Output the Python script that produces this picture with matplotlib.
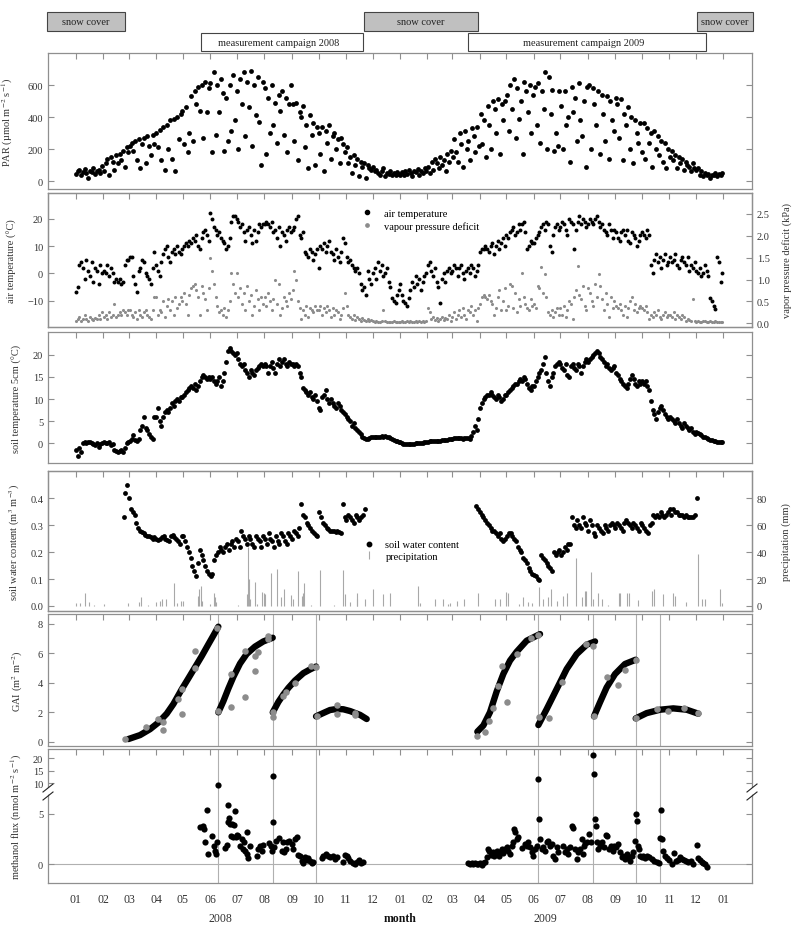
import numpy as np
import pandas as pd
import matplotlib
matplotlib.use("Agg")
import matplotlib.pyplot as plt
import matplotlib.dates as mdates
import matplotlib.transforms as mtrans
from matplotlib.lines import Line2D
from matplotlib.patches import Rectangle, Polygon
from matplotlib.ticker import FormatStrFormatter

plt.rcParams["font.family"] = ["Liberation Serif", "DejaVu Serif"]
plt.rcParams["mathtext.fontset"] = "stix"
plt.rcParams["font.size"] = 7.5

# ---------------- data ----------------
# bars above the panels
snow_start = ["2007-11-30", "2008-11-21", "2009-12-02"]
snow_end = ["2008-02-25", "2009-03-30", "2010-02-03"]
camp_start = ["2008-05-21", "2009-03-19"]
camp_end = ["2008-11-20", "2009-12-13"]
camp_label = ["measurement campaign 2008", "measurement campaign 2009"]

# PAR, every second day
par_2008 = [45, 60, 70, 35, 55, 75, 50, 20, 65, 55, 80, 45, 60, 70, 50, 95,
            60, 110, 140, 40, 150, 120, 70, 160, 110, 170, 130, 190, 90, 210, 180,
            220, 240, 190, 250, 130, 260, 80, 230, 270, 110, 280, 220, 160, 290, 230,
            300, 210, 320, 130, 340, 70, 350, 200, 380, 140, 390, 60, 400, 260, 420,
            440, 230, 460, 180, 300, 530, 250, 560, 480, 590, 440, 600, 270, 620, 430, 580,
            610, 180, 680, 290, 600, 430, 640, 550, 190, 520, 250, 600, 310, 660, 380,
            560, 200, 640, 480, 680, 280, 620, 460, 690, 220, 600, 410, 650, 370, 100, 620,
            580, 170, 520, 300, 600, 350, 490, 240, 540, 440, 560, 290, 520, 180, 480, 600,
            480, 250, 490, 130, 430, 400, 470, 210, 350, 80, 410, 290, 360, 100, 340,
            300, 170, 340, 60, 310, 240, 350, 140, 280, 300, 200, 260, 110, 270, 230, 180,
            210, 110, 150, 50, 160, 100, 140, 30, 120, 90, 110, 20, 100, 80, 70,
            90, 60, 70, 50, 40, 60, 80, 30, 50, 45, 60, 35, 50, 40, 55, 45]
par_2009 = [40, 55, 35, 60, 45, 70, 50, 30, 60, 55, 75, 40, 65, 50, 80, 60,
            90, 50, 120, 70, 140, 110, 80, 150, 100, 130, 60, 170, 120, 190,
            150, 260, 180, 120, 300, 230, 90, 310, 200, 250, 130, 330, 280, 180, 340, 220,
            420, 230, 380, 150, 470, 350, 200, 500, 450, 300, 510, 170, 480, 380, 500,
            540, 310, 600, 450, 640, 270, 580, 390, 500, 170, 620, 560, 430, 600, 300, 540,
            590, 350, 610, 240, 560, 450, 680, 200, 650, 420, 570, 190, 300, 220, 560,
            470, 200, 560, 350, 400, 120, 590, 430, 520, 250, 610, 380, 280, 500, 90, 590,
            600, 200, 580, 480, 350, 560, 170, 540, 420, 250, 530, 140, 500, 380, 310, 520,
            480, 270, 510, 130, 420, 350, 460, 200, 400, 110, 380, 300, 240, 360, 180,
            360, 140, 330, 240, 300, 90, 310, 200, 280, 160, 250, 120, 240, 80, 200, 150,
            190, 130, 160, 80, 150, 110, 140, 70, 120, 100, 90, 60, 110, 80, 70,
            80, 40, 60, 30, 50, 40, 45, 20, 40, 35, 50, 30, 45, 40, 50]

# air temperature (degC), every second day
air_2008 = [-7, -5, 3, 4, 2, -2, 5, 1, -1, 4, -3, 2, 1, -4, 3, 0,
            1, 0, 3, -1, 2, 0, -3, -2, -3, -2, -4, -3, 3, 5, 5,
            6, 6, -1, -4, -7, 1, 2, 5, 4, 0, -1, -2, -4, 2, 8,
            3, 1, -1, 4, 7, 9, 10, 6, 4, 8, 9, 7, 10, 8, 7,
            9, 10, 11, 10, 12, 11, 13, 12, 14, 10, 9, 13, 15, 16, 14, 12,
            22, 20, 17, 16, 14, 15, 13, 12, 11, 9, 10, 13, 19, 21, 21,
            20, 19, 17, 18, 15, 12, 16, 17, 14, 11, 16, 12, 15, 18, 17, 18,
            18, 19, 18, 17, 19, 15, 16, 13, 17, 10, 15, 14, 12, 16, 17, 15,
            16, 17, 20, 21, 14, 13, 15, 8, 7, 6, 9, 8, 5, 7, 9,
            2, 10, 9, 11, 8, 10, 12, 8, 7, 5, 9, 6, 4, 8, 13, 11,
            6, 4, 5, 3, 2, 1, 2, 0, -4, -6, -5, -8, 1, -2, -4,
            0, 2, -2, 4, 1, 3, -1, 0, 2, -3, -5, -9, -10, -11, -8, -6]
air_2009 = [-4, -8, -10, -11, -12, -9, -6, -3, -5, -1, -4, -2, -6, -3, -1, 0,
            3, 4, 1, -1, 2, -3, -5, -11, -2, 0, -3, 1, 2, 0,
            1, 3, 2, -1, 2, 3, 0, -2, 1, 2, 0, 3, 2, -1, 1, 3,
            8, 9, 9, 10, 9, 8, 10, 11, 7, 10, 12, 9, 11, 13, 10,
            14, 13, 15, 16, 17, 14, 15, 18, 16, 18, 19, 15, 9, 10, 12, 11,
            11, 13, 14, 15, 17, 18, 16, 19, 18, 10, 8, 14, 17, 18, 16,
            17, 19, 18, 16, 14, 20, 19, 18, 9, 16, 19, 21, 18, 20, 19, 17,
            18, 20, 19, 18, 20, 21, 19, 17, 18, 16, 15, 14, 18, 16, 13, 16,
            15, 13, 12, 15, 16, 14, 16, 12, 11, 15, 14, 13, 10, 12, 14,
            15, 14, 13, 16, 14, 3, 0, 5, 7, 4, 6, 2, 5, 7, 3, 4,
            6, 4, 5, 7, 3, 2, 5, 6, 4, 3, 6, 1, 3, 2, 4,
            1, 0, 2, -1, 0, 3, 1, -1, -9, -10, -12, -13, 6, 4, -3, 0]

# vapour pressure deficit (kPa), every second day
vpd_2008 = [0.05, 0.1, 0.15, 0.05, 0.1, 0.2, 0.1, 0.05, 0.15, 0.1, 0.08, 0.12, 0.1, 0.2, 0.1, 0.25,
            0.15, 0.2, 0.1, 0.25, 0.15, 0.2, 0.45, 0.15, 0.2, 0.25, 0.2, 0.3, 0.25, 0.2, 0.3,
            0.3, 0.2, 0.15, 0.25, 0.1, 0.3, 0.2, 0.15, 0.25, 0.3, 0.2, 0.15, 0.1, 0.3, 0.6,
            0.6, 0.2, 0.3, 0.25, 0.5, 0.15, 0.4, 0.55, 0.3, 0.5, 0.2, 0.6, 0.35, 0.45, 0.6,
            0.5, 0.7, 0.45, 0.2, 0.65, 0.8, 0.85, 0.9, 0.75, 0.6, 0.2, 0.85, 0.7, 0.55, 0.3, 0.8,
            1.5, 1.2, 0.9, 0.6, 0.4, 0.25, 0.3, 0.2, 0.35, 0.15, 0.3, 0.5, 1.15, 0.9, 0.7,
            1.15, 0.6, 0.8, 0.45, 0.7, 0.3, 0.85, 0.5, 0.65, 0.2, 0.4, 0.75, 0.55, 0.3, 0.6, 0.45,
            0.6, 0.4, 0.7, 0.5, 0.3, 0.55, 1.0, 0.45, 0.9, 0.2, 0.35, 0.6, 0.5, 0.4, 0.7, 0.55,
            0.75, 1.2, 1.0, 0.5, 0.35, 0.1, 0.3, 0.2, 0.4, 0.15, 0.35, 0.3, 0.25, 0.4, 0.3,
            0.3, 0.4, 0.2, 0.35, 0.25, 0.4, 0.3, 0.15, 0.35, 0.2, 0.3, 0.25, 0.1, 0.2, 0.35, 0.7,
            0.4, 0.2, 0.15, 0.1, 0.2, 0.08, 0.15, 0.1, 0.05, 0.12, 0.08, 0.05, 0.1, 0.05, 0.08,
            0.05, 0.03, 0.05, 0.04, 0.02, 0.05, 0.3, 0.05, 0.03, 0.02, 0.04, 0.03, 0.05, 0.02, 0.04, 0.03]
vpd_2009 = [0.03, 0.05, 0.02, 0.04, 0.06, 0.03, 0.05, 0.04, 0.02, 0.05, 0.03, 0.06, 0.04, 0.05, 0.03, 0.05,
            0.35, 0.25, 0.1, 0.15, 0.08, 0.12, 0.05, 0.1, 0.15, 0.08, 0.12, 0.1, 0.2, 0.05,
            0.15, 0.25, 0.1, 0.2, 0.3, 0.15, 0.35, 0.2, 0.1, 0.3, 0.25, 0.4, 0.2, 0.3, 0.05, 0.35,
            0.45, 0.6, 0.65, 0.6, 0.55, 0.65, 0.5, 0.45, 0.2, 0.35, 0.6, 0.75, 0.3, 0.5, 0.8,
            0.3, 0.4, 0.9, 0.85, 0.35, 0.7, 0.25, 0.55, 0.4, 1.15, 0.6, 0.45, 0.35, 0.3, 0.55, 0.4,
            0.45, 0.35, 0.85, 0.8, 1.28, 0.7, 1.13, 0.6, 0.25, 0.2, 0.3, 0.15, 0.25, 0.35, 0.2,
            0.35, 0.2, 0.4, 0.15, 0.3, 0.5, 0.45, 0.1, 0.6, 0.75, 1.3, 0.65, 0.55, 0.85, 0.4, 0.3,
            0.8, 0.7, 0.5, 0.4, 0.9, 0.6, 1.13, 0.85, 0.55, 0.3, 0.7, 0.45, 0.15, 0.6, 0.35, 0.5,
            0.4, 0.35, 0.45, 0.3, 0.2, 0.4, 0.15, 0.35, 0.5, 0.6, 0.3, 0.45, 0.25, 0.35, 0.4,
            0.35, 0.3, 0.4, 0.25, 0.1, 0.2, 0.15, 0.25, 0.2, 0.3, 0.15, 0.1, 0.2, 0.25, 0.15, 0.2,
            0.2, 0.15, 0.25, 0.1, 0.2, 0.15, 0.1, 0.2, 0.15, 0.05, 0.1, 0.08, 0.05, 0.55, 0.05,
            0.03, 0.05, 0.02, 0.04, 0.06, 0.05, 0.02, 0.03, 0.05, 0.04, 0.03, 0.05, 0.02, 0.04, 0.03, 0.02]

# soil temperature 5 cm (degC), every second day
soil_2008 = [-1.5, -3, -1, -2, 0, 0.3, 0, 0.2, 0.3, 0, -0.3, -0.5, 0, -0.8, -0.3, 0,
             0.2, 0, 0.1, 0.2, -0.5, -0.3, -1.5, -1.8, -2, -1.7, -1.5, -2, -1, 0, 0.3,
             0.5, 1, 1.8, 0.8, 0.5, 1, 3, 4, 6, 3.5, 3, 2, 1.5, 1, 6,
             6, 8, 5, 4, 6, 7, 7.5, 7, 8, 9, 8.5, 9.5, 10, 9.5, 10.5,
             10.5, 11, 11.5, 12, 12.5, 13, 12.5, 13.5, 12, 13, 14, 15, 15.5, 15, 14.5, 15,
             14.5, 15, 14, 13.5, 14, 15, 13, 14, 16, 18.5, 21, 21.5, 21, 20.5, 20,
             20.5, 19, 18, 17.5, 18, 16.5, 16, 15, 16.5, 16, 15.5, 16.5, 17, 17.5, 18, 17.5,
             18, 17.5, 16, 17.5, 18.5, 17, 16, 18, 19, 17.5, 18.5, 19, 18, 17.5, 18.5, 18,
             18, 17.5, 18, 17.5, 16, 15, 12.5, 12, 11.5, 11, 11.5, 10.5, 10, 11, 9.5,
             8, 7.5, 10.5, 11, 12, 10, 9, 10, 9, 8.5, 8, 9, 8.5, 7.5, 7, 6.5,
             6, 5.5, 5, 4, 4.5, 3.5, 3, 2.5, 2, 1.5, 1.2, 1, 0.9, 1.2, 1.3,
             1.3, 1.4, 1.5, 1.5, 1.5, 1.6, 1.5, 1.6, 1.5, 1.4, 1.2, 1, 0.8, 0.6, 0.5, 0.3]
soil_2009 = [0.2, 0, -0.2, -0.3, -0.3, -0.2, -0.2, -0.1, -0.1, 0, 0, 0, 0.1, 0.1, 0.2, 0.2,
             0.3, 0.4, 0.4, 0.5, 0.5, 0.6, 0.6, 0.6, 0.7, 0.7, 0.8, 0.8, 0.9, 0.9,
             1, 1.1, 1.1, 1.2, 1.1, 1.1, 1.0, 1.1, 1.2, 1.1, 1.0, 1.6, 2.5, 4, 3, 5.5,
             8, 9, 10, 10.5, 11, 11, 11.5, 11, 10.5, 10, 11, 10.5, 9.5, 10, 11,
             11, 11.5, 12, 12.5, 13, 13.5, 13.5, 14, 14.5, 14, 15, 14.5, 13.5, 12.5, 12, 13,
             13, 14, 15, 16, 16.5, 18, 19.5, 16, 14, 13, 15, 16, 17.5, 18, 18.5,
             18, 17, 16.5, 18, 15.5, 15, 17.5, 18, 17, 16.5, 18, 17.5, 16, 17.5, 18.5, 19,
             18.5, 19, 19.5, 20, 20.5, 21, 20.5, 19.5, 19, 18.5, 17.5, 18, 17, 16.5, 17, 17.5,
             16, 15.5, 14.5, 14, 13.5, 13, 12.5, 13.5, 14.5, 15.5, 14.5, 13.5, 13, 14, 13.5,
             14, 13.5, 14, 13, 12, 9.5, 7.5, 6.5, 5.5, 7, 8, 8.5, 7.5, 6.5, 6, 5.5,
             6, 5.5, 5, 4.5, 5.5, 4.5, 4, 3.5, 4.5, 4, 3.5, 3, 3.5, 2.5, 2,
             2.5, 2.2, 2, 1.8, 1.5, 1.3, 1.1, 1, 0.8, 0.7, 0.6, 0.4, 0.3, 0.3, 0.2, 0.2]

# soil water content (m3 m-3), every second day within each campaign
swc_2008 = [0.33, 0.42, 0.45, 0.40, 0.36, 0.35, 0.34, 0.31,
            0.29, 0.28, 0.275, 0.27, 0.265, 0.26, 0.26, 0.255, 0.25, 0.255, 0.25, 0.245, 0.25,
            0.255, 0.26, 0.25, 0.245, 0.24, 0.26, 0.265, 0.255, 0.25, 0.24, 0.23, 0.26,
            0.26, 0.24, 0.22, 0.2, 0.18, 0.15, 0.13, 0.11,
            0.16, 0.21, 0.19, 0.17, 0.15, 0.13, 0.12, 0.11, 0.12,
            0.17, 0.19, 0.2, 0.22, 0.21, 0.2, 0.22, 0.23, 0.21, 0.23, 0.24, 0.22, 0.25, 0.24,
            0.22, 0.28, 0.26, 0.25, 0.23, 0.26, 0.25, 0.23, 0.22, 0.26, 0.25, 0.24, 0.22, 0.26,
            0.25, 0.23, 0.27, 0.25, 0.24, 0.22, 0.26, 0.24, 0.23, 0.27, 0.26, 0.24, 0.23, 0.27,
            0.26, 0.25, 0.28, 0.27, 0.26, 0.29,
            0.38, 0.34, 0.33, 0.31, 0.3, 0.29, 0.28, 0.27, 0.265, 0.26, 0.35, 0.33, 0.31, 0.3,
            0.29, 0.285, 0.28, 0.28, 0.28, 0.275, 0.28, 0.275, 0.27, 0.38, 0.33, 0.32, 0.34,
            0.33, 0.32, 0.31, 0.34, 0.33, 0.32, 0.33, 0.34, 0.36]
swc_2009 = [0.37, 0.36, 0.35, 0.34, 0.33, 0.32, 0.31, 0.30, 0.29, 0.28, 0.28, 0.27, 0.26,
            0.27, 0.25, 0.24, 0.25, 0.26, 0.27, 0.27, 0.26, 0.25, 0.24, 0.22, 0.21, 0.2, 0.18,
            0.17, 0.16, 0.14, 0.13, 0.12, 0.115, 0.11, 0.1, 0.095,
            0.19, 0.18, 0.17, 0.16, 0.15, 0.14, 0.13, 0.2, 0.19, 0.2, 0.21, 0.19, 0.2, 0.22,
            0.21, 0.23, 0.23,
            0.33, 0.3, 0.29, 0.32, 0.3, 0.29, 0.33, 0.31, 0.3, 0.28, 0.32, 0.3, 0.27, 0.26,
            0.3, 0.29, 0.28, 0.27, 0.3, 0.29, 0.28, 0.3, 0.31, 0.3, 0.29, 0.31, 0.3, 0.29,
            0.28, 0.31, 0.32, 0.31, 0.3, 0.29, 0.31, 0.3, 0.29, 0.28, 0.31, 0.3, 0.29, 0.28,
            0.27, 0.3, 0.31, 0.34, 0.33, 0.34, 0.33, 0.35, 0.34, 0.33, 0.34, 0.35, 0.36, 0.34,
            0.36, 0.35, 0.35, 0.34, 0.34, 0.34, 0.33, 0.34, 0.33, 0.33, 0.33, 0.33, 0.34, 0.40]
swc_span_2008 = ("2008-02-24", "2008-11-22")
swc_span_2009 = ("2009-03-28", "2009-12-02")

# precipitation (mm); day = day of year - 1
rain_day_2008 = [0, 5, 10, 15, 20, 32, 59, 71, 74, 82, 91, 95, 97, 102, 111, 114, 119, 121,
                 138, 139, 141, 143, 152, 156, 157, 158, 183, 193, 194, 195, 197, 202, 204,
                 210, 212, 214, 220, 227, 232, 235, 243, 245, 251, 255, 257, 258, 265, 276,
                 291, 302, 304, 309, 317, 318, 327, 336, 347, 355]
rain_2008 = [2.2, 2, 10, 3, 1, 1.5, 2, 3, 6.4, 1, 3, 4, 5, 5, 17, 2, 4, 4,
             7.7, 12.6, 15, 4, 1.5, 10, 6.4, 2.7, 1, 9, 43.6, 20, 5, 18, 1.5,
             10.7, 9.7, 9, 24.5, 27.5, 7, 12.6, 8, 5, 26, 7.7, 10, 17, 1, 27,
             1, 27, 9, 2.7, 5, 9.7, 5, 12.6, 9, 9.4]
rain_day_2009 = [20, 23, 39, 48, 54, 57, 64, 72, 88, 107, 113, 120, 122, 134, 139, 145, 149,
                 157, 162, 167, 170, 177, 184, 188, 199, 205, 209, 210, 216, 218, 223, 228,
                 235, 247, 248, 256, 259, 269, 284, 287, 297, 308, 310, 323, 336, 341, 344,
                 361, 364]
rain_2009 = [14.6, 2, 5, 5, 1.5, 2.2, 4, 5, 9.4, 5, 5, 10.7, 9.7, 1.5, 6.4, 2.7, 2.2,
             13.9, 5, 7, 12.6, 4, 7.7, 10, 36, 6.4, 11.4, 11.4, 25, 5, 9.7, 5,
             1, 9.7, 9.7, 9.7, 10, 4.7, 11.4, 13, 9, 9.7, 7.7, 2.7, 39, 5, 5,
             12.6, 2]

# GAI (m2 m-2): fitted curves per growth period and measured values; day = day of year - 1
gai_fit_day_2008 = [[59.3, 72.5, 83.8, 93.2, 102.6, 110.1, 119.5, 127.1, 134.6, 142.1, 149.6, 155.3, 160.9],
                    [160.9, 166.6, 172.2, 177.9, 185.4, 192.9, 202.3, 211.7, 222.3],
                    [222.3, 228.7, 234.3, 240.0, 247.5, 256.9, 264.4, 271.2],
                    [271.2, 281.4, 287.0, 294.6, 302.0, 309.6, 320.9, 328.4]]
gai_fit_2008 = [[0.18, 0.45, 0.85, 1.3, 1.9, 2.55, 3.55, 4.3, 5.05, 5.8, 6.6, 7.2, 7.8],
                [1.99, 2.75, 3.6, 4.4, 5.3, 5.95, 6.45, 6.8, 7.05],
                [1.99, 2.7, 3.2, 3.65, 4.15, 4.65, 4.9, 5.1],
                [1.72, 2.0, 2.15, 2.22, 2.2, 2.08, 1.82, 1.54]]
gai_fit_day_2009 = [[87.3, 94.1, 101.6, 109.1, 116.7, 124.2, 131.7, 143.0, 158.1],
                    [156.2, 165.6, 176.9, 188.2, 199.5, 210.8, 220.2],
                    [219.0, 225.8, 233.3, 242.8, 254.0, 266.1],
                    [266.1, 278.5, 293.6, 308.6, 323.7, 336.8]]
gai_fit_2009 = [[0.68, 1.1, 2.0, 3.4, 4.6, 5.5, 6.1, 6.85, 7.3],
                [1.13, 2.21, 3.57, 4.93, 5.94, 6.58, 6.8],
                [1.72, 2.67, 3.68, 4.59, 5.27, 5.56],
                [1.58, 1.94, 2.17, 2.26, 2.17, 1.9]]
gai_obs_day_2008 = [55.5, 78.9, 93.2, 98.8, 98.8, 115.8, 119.5, 119.5, 134.6, 134.6, 159.8,
                    160.9, 175.2, 175.2, 191.0, 191.0, 202.3, 202.3, 206.1, 217.4, 217.4,
                    223.0, 223.0, 233.6, 237.3, 247.5, 265.2, 271.2, 272.0, 294.6, 294.6,
                    315.3, 315.3]
gai_obs_2008 = [0.18, 0.97, 1.54, 1.36, 0.81, 2.89, 3.57, 1.88, 4.99, 6.17, 7.68,
                2.1, 4.59, 2.37, 6.17, 3.0, 4.81, 5.83, 6.06, 7.19, 6.96,
                1.65, 1.99, 3.12, 3.34, 3.95, 5.15, 5.04, 1.72, 2.51, 1.88,
                1.94, 1.81]
gai_obs_day_2009 = [87.3, 96.3, 100.9, 105.4, 110.3, 114.8, 120.4, 131.7, 147.5, 155.4, 156.9,
                    168.6, 182.5, 210.0, 218.3, 219.4, 233.3, 246.5, 254.0, 266.1, 266.1,
                    289.8, 302.2, 320.7, 336.1]
gai_obs_2009 = [0.36, 0.63, 1.38, 2.26, 3.8, 5.11, 2.71, 5.94, 7.0, 7.25, 1.69,
                1.58, 4.07, 6.62, 6.51, 1.72, 4.36, 3.84, 4.86, 5.56, 1.58,
                2.21, 2.1, 2.26, 1.92]
# management dates (grey vertical lines), days since 2008-01-01
cut_day = [160.9, 222.3, 271.2, 522.2, 584.3, 632.1, 659.6]

# methanol flux (nmol m-2 s-1); day = day of year - 1
ch4_day_2008 = [140.2, 143.2, 145.1, 145.9, 147.8, 149.6, 153.4, 156.0, 157.2, 158.3, 159.8,
                160.9, 168.5, 170.4, 171.5, 172.2, 173.4, 174.1, 175.2, 176.8, 177.9, 179.0,
                180.2, 180.9, 182.4, 183.5, 185.4, 187.3, 188.4, 189.9, 191.0, 192.9, 193.7,
                194.8, 196.7, 204.2, 206.1, 208.0, 209.9, 211.7, 218.5, 220.0, 221.1, 222.3,
                223.0, 223.8, 226.0, 229.8, 232.4, 233.6, 235.1, 237.3, 238.8, 241.1, 243.7,
                245.6, 247.5, 249.4, 251.3, 253.2, 255.0, 256.9, 258.8, 260.7, 262.6, 264.4,
                266.3, 268.2, 277.6, 279.5, 282.5, 285.1, 287.0, 290.8, 292.6, 294.5, 302.0,
                303.9, 305.8, 307.7, 309.6, 312.6, 315.2, 317.9, 320.2, 321.7, 323.9]
ch4_2008 = [3.74, 3.84, 3.5, 2.25, 5.43, 1.03, 2.85, 1.85, 1.36, 1.03, 2.25,
            9.5, 1.59, 1.92, 5.9, 4.17, 4.57, 4.0, 2.85, 4.0, 2.68, 3.9,
            5.26, 2.68, 2.9, 2.85, 1.85, 2.5, 1.52, 2.25, 1.36, 3.24, 1.03,
            0.6, 1.79, 0.79, 1.52, 1.79, 1.36, 1.92, 2.12, 1.85, 1.36, 12.8,
            4.24, 1.69, 2.35, 2.58, 1.36, 2.19, 1.26, 1.52, 2.19, 2.35, 2.02,
            1.52, 2.5, 2.68, 0.93, 0.86, 0.36, 0.13, 0.7, 0.46, 0.6, 0.36,
            0.13, 0.26, 0.6, 0.79, 1.03, 0.86, 0.7, 0.79, 0.53, 0.7, 0.2,
            0.93, 0.79, 0.6, 0.36, 0.13, 0.03, 0.26, 0.46, 0.13, 0.2]
ch4_day_2009 = [77.2, 79.0, 80.9, 82.8, 84.7, 86.6, 88.4, 90.3, 92.2, 94.1, 96.0, 97.9, 99.0,
                100.9, 102.4, 104.6, 106.1, 108.4, 109.9, 111.4, 112.9, 114.8, 116.7, 118.6,
                120.4, 122.3, 124.2, 126.1, 128.0, 129.1, 130.2, 131.7, 133.6, 137.4, 141.1,
                143.0, 144.9, 146.8, 148.7, 150.5, 152.4, 154.3, 156.2, 156.9, 158.1, 160.0,
                161.8, 163.7, 165.6, 167.5, 169.4, 171.2, 173.1, 175.0, 176.9, 178.8, 184.4,
                186.3, 188.2, 190.1, 191.9, 194.6, 195.7, 197.6, 199.5, 201.4, 203.2, 205.1,
                206.2, 207.8, 208.9, 210.8, 213.8, 215.3, 217.5, 219.0, 220.2, 220.9, 222.1,
                223.9, 225.8, 227.7, 230.3, 232.6, 234.1, 236.4, 237.9, 240.1, 241.6, 243.9,
                246.5, 248.4, 250.3, 252.2, 254.0, 255.9, 257.8, 259.7, 261.6, 263.5, 265.3,
                266.5, 267.2, 268.3, 269.5, 271.0, 272.9, 274.7, 276.6, 278.5, 281.5, 284.2,
                286.8, 289.8, 292.8, 293.6, 294.7, 295.8, 297.3, 299.2, 301.1, 304.1, 306.7,
                309.4, 311.6, 314.3, 316.1, 318.0, 320.7, 322.9, 325.6, 328.2, 330.4, 335.0,
                336.9, 338.7, 340.6, 342.5, 344.4, 346.3]
ch4_2009 = [0.13, 0.03, 0.1, 0.0, 0.1, 0.03, 0.0, 0.1, -0.07, 0.13, 0.26, 0.7, 1.52,
            1.36, 0.93, 1.19, 0.79, 1.03, 1.36, 0.86, 1.26, 1.52, 1.13, 1.52,
            1.69, 1.36, 1.03, 1.85, 2.25, 3.51, 3.18, 2.52, 2.68, 1.59, 2.02,
            1.85, 2.19, 1.69, 1.19, 0.86, 1.52, 1.85, 11.6, 4.5, 2.52, 1.52,
            1.69, 1.36, 2.19, 2.35, 1.85, 2.02, 0.86, 0.53, 1.69, 1.19, 1.85,
            1.26, 1.52, 1.03, 1.69, 3.84, 3.58, 1.52, 0.53, 1.19, 1.52, 2.52,
            1.03, 1.85, 2.12, 2.19, 3.01, 2.19, 21.3, 13.7, 4.5, 3.84, 2.19,
            1.52, 1.85, 2.19, 1.69, 2.91, 2.85, 1.52, 1.85, 1.36, 1.85, 1.69,
            2.02, 1.19, 0.7, 0.86, 0.53, 1.03, 0.7, 0.36, 0.86, 1.19, 2.35,
            5.0, 4.34, 1.85, 1.52, 0.86, 0.7, 0.86, 0.6, 0.79, 0.7, 0.53,
            0.36, 0.26, 0.13, 2.58, 5.43, 2.52, 1.36, 0.79, 0.6, 0.46, 0.03,
            1.13, 0.36, 0.46, 0.7, 0.53, 0.46, 0.33, 0.26, 0.36, 0.03, 1.92,
            0.6, 0.46, 0.26, 0.13, 0.0, -0.23]

# ---------------- helpers ----------------
W, H = 800, 929
X0 = pd.Timestamp("2007-11-30 14:00")
X1 = pd.Timestamp("2010-02-02 10:00")
MONTHS = pd.date_range("2008-01-01", "2010-01-01", freq="MS")
FRAME = "#8f8f8f"
TXT = "#333333"
GRAY = "#8c8c8c"


def spaced(start, end, values):
    return pd.date_range(start, end, periods=len(values))


def by_day(year, days):
    return pd.Timestamp(f"{year}-01-01") + pd.to_timedelta(np.asarray(days, dtype=float), unit="D")


def panel(top, bottom):
    return fig.add_axes([48 / W, 1 - bottom / H, 704 / W, (bottom - top) / H])


def style(ax, top_ticks=True, right_ticks=True):
    ax.set_xlim(X0, X1)
    ax.set_xticks(MONTHS)
    for sp in ax.spines.values():
        sp.set_color(FRAME)
        sp.set_linewidth(0.9)
    ax.tick_params(axis="x", direction="in", top=top_ticks, bottom=False,
                   labelbottom=False, length=4, width=0.8, color=FRAME)
    ax.tick_params(axis="y", direction="in", left=True, right=right_ticks, length=4,
                   width=0.8, color=FRAME, labelcolor=TXT, labelsize=7.5)


def style_right(ax):
    ax.tick_params(axis="y", direction="in", left=False, right=True, length=4,
                   width=0.8, color=FRAME, labelcolor=TXT, labelsize=7.5)
    for sp in ax.spines.values():
        sp.set_color(FRAME)
        sp.set_linewidth(0.9)


def px(x, y):
    return x / W, 1 - y / H


fig = plt.figure(figsize=(8, 9.29), dpi=100)

# ---------------- bars on top ----------------
ax_bar = fig.add_axes([48 / W, 1 - 54 / H, 704 / W, 44 / H])
ax_bar.set_xlim(X0, X1)
ax_bar.set_ylim(54, 10)
ax_bar.axis("off")
for s, e in zip(snow_start, snow_end):
    a, b = mdates.date2num(pd.Timestamp(s)), mdates.date2num(pd.Timestamp(e))
    ax_bar.add_patch(Rectangle((a, 13), b - a, 19, facecolor="#c0c0c0",
                               edgecolor="#444444", lw=0.8, clip_on=False))
    ax_bar.text((a + b) / 2, 22.5, "snow cover", ha="center", va="center", color="#222222")
for s, e, lab in zip(camp_start, camp_end, camp_label):
    a, b = mdates.date2num(pd.Timestamp(s)), mdates.date2num(pd.Timestamp(e))
    ax_bar.add_patch(Rectangle((a, 34), b - a, 18, facecolor="white",
                               edgecolor="#444444", lw=0.8, clip_on=False))
    ax_bar.text((a + b) / 2 - 4, 43, lab, ha="center", va="center", color="#222222")

# ---------------- PAR ----------------
ax = panel(54, 190)
style(ax)
ax.scatter(spaced("2008-01-01", "2008-12-31", par_2008), par_2008, s=12, c="k", lw=0)
ax.scatter(spaced("2009-01-01", "2009-12-31", par_2009), par_2009, s=12, c="k", lw=0)
ax.set_ylim(-50, 800)
ax.set_yticks([0, 200, 400, 600])
ax.set_ylabel("PAR (µmol m$^{-2}$ s$^{-1}$)", color=TXT, labelpad=9)

# ---------------- air temperature / VPD ----------------
ax = panel(194, 328)
style(ax, right_ticks=False)
ax2 = ax.twinx()
style_right(ax2)
ax.scatter(spaced("2008-01-01", "2008-12-31", air_2008), air_2008, s=8, c="k", lw=0)
ax.scatter(spaced("2009-01-01", "2009-12-31", air_2009), air_2009, s=8, c="k", lw=0)
ax2.scatter(spaced("2008-01-01", "2008-12-31", vpd_2008), vpd_2008, s=5, c=GRAY, lw=0)
ax2.scatter(spaced("2009-01-01", "2009-12-31", vpd_2009), vpd_2009, s=5, c=GRAY, lw=0)
ax.set_ylim(-19.7, 29.5)
ax.set_yticks([-10, 0, 10, 20])
ax2.set_ylim(-0.085, 2.98)
ax2.set_yticks([0, 0.5, 1.0, 1.5, 2.0, 2.5])
ax2.yaxis.set_major_formatter(FormatStrFormatter("%.1f"))
ax.set_ylabel("air temperature (°C)", color=TXT, labelpad=7)
ax2.set_ylabel("vapor pressure deficit (kPa)", color=TXT, labelpad=9)
h1 = Line2D([], [], ls="none", marker="o", ms=3.0, mfc="k", mec="k")
h2 = Line2D([], [], ls="none", marker="o", ms=2.4, mfc=GRAY, mec=GRAY)
ax2.legend([h1, h2], ["air temperature", "vapour pressure deficit"], loc="upper left",
           bbox_to_anchor=(0.447, 0.884), frameon=False, borderpad=0, borderaxespad=0,
           handlelength=0.8, handletextpad=1.2, labelspacing=0.3, fontsize=7.5)

# ---------------- soil temperature ----------------
ax = panel(333, 464)
style(ax)
ax.scatter(spaced("2008-01-01", "2008-12-31", soil_2008), soil_2008, s=12, c="k", lw=0)
ax.scatter(spaced("2009-01-01", "2009-12-31", soil_2009), soil_2009, s=12, c="k", lw=0)
ax.set_ylim(-4.5, 25.2)
ax.set_yticks([0, 5, 10, 15, 20])
ax.set_ylabel("soil temperature 5cm (°C)", color=TXT, labelpad=8)

# ---------------- soil water content / precipitation ----------------
ax = panel(472, 612)
style(ax, right_ticks=False)
ax2 = ax.twinx()
style_right(ax2)
ax2.vlines(by_day(2008, rain_day_2008), 0, rain_2008, color="#a8a8a8", lw=0.8)
ax2.vlines(by_day(2009, rain_day_2009), 0, rain_2009, color="#a8a8a8", lw=0.8)
ax.scatter(spaced(*swc_span_2008, swc_2008), swc_2008, s=12, c="k", lw=0, zorder=3)
ax.scatter(spaced(*swc_span_2009, swc_2009), swc_2009, s=12, c="k", lw=0, zorder=3)
ax.set_ylim(-0.0186, 0.502)
ax.set_yticks([0, 0.1, 0.2, 0.3, 0.4])
ax.yaxis.set_major_formatter(FormatStrFormatter("%.1f"))
ax2.set_ylim(-3.72, 100.4)
ax2.set_yticks([0, 20, 40, 60, 80])
ax.set_ylabel("soil water content (m$^{3}$ m$^{-3}$)", color=TXT, labelpad=6)
ax2.set_ylabel("precipitation (mm)", color=TXT, labelpad=10)
h1 = Line2D([], [], ls="none", marker="o", ms=3.2, mfc="k", mec="k")
h2 = Line2D([], [], ls="none", marker="|", ms=6, mec="#a8a8a8", mew=0.8)
ax2.legend([h1, h2], ["soil water content", "precipitation"], loc="upper left",
           bbox_to_anchor=(0.4496, 0.507), frameon=False, borderpad=0, borderaxespad=0,
           handlelength=0.8, handletextpad=1.2, labelspacing=0.2, fontsize=7.5)

# ---------------- GAI ----------------
ax = panel(615, 747)
style(ax)
for d in cut_day:
    ax.axvline(by_day(2008, [d])[0], color="#b0b0b0", lw=0.8, zorder=1)
for dd, vv in zip(gai_fit_day_2008, gai_fit_2008):
    ax.plot(by_day(2008, dd), vv, color="k", lw=4.6, solid_capstyle="round", zorder=2)
for dd, vv in zip(gai_fit_day_2009, gai_fit_2009):
    ax.plot(by_day(2009, dd), vv, color="k", lw=4.6, solid_capstyle="round", zorder=2)
ax.scatter(by_day(2008, gai_obs_day_2008), gai_obs_2008, s=22, c=GRAY, lw=0, zorder=3)
ax.scatter(by_day(2009, gai_obs_day_2009), gai_obs_2009, s=22, c=GRAY, lw=0, zorder=3)
ax.set_ylim(-0.29, 8.66)
ax.set_yticks([0, 2, 4, 6, 8])
ax.set_ylabel("GAI (m$^{2}$ m$^{-2}$)", color=TXT, labelpad=9)

# ---------------- methanol flux (broken axis) ----------------
ax_hi = panel(750, 792)
ax_lo = panel(792, 884)
style(ax_hi)
style(ax_lo, top_ticks=False)
ax_hi.spines["bottom"].set_visible(False)
ax_lo.spines["top"].set_visible(False)
for a in (ax_hi, ax_lo):
    for d in cut_day:
        a.axvline(by_day(2008, [d])[0], color="#b0b0b0", lw=0.8, zorder=1)
    a.scatter(by_day(2008, ch4_day_2008), ch4_2008, s=20, c="k", lw=0, zorder=3)
    a.scatter(by_day(2009, ch4_day_2009), ch4_2009, s=20, c="k", lw=0, zorder=3)
ax_lo.axhline(0, color="#b0b0b0", lw=0.8, zorder=1)
ax_hi.set_ylim(6.96, 23.56)
ax_hi.set_yticks([10, 15, 20])
ax_lo.set_ylim(-1.85, 7.28)
ax_lo.set_yticks([0, 5])
ax_lo.xaxis.set_major_formatter(mdates.DateFormatter("%m"))
ax_lo.tick_params(axis="x", labelbottom=True, pad=7, labelsize=8.5, labelcolor=TXT)
fig.text(16 / W, 1 - 817 / H, "methanol flux (nmol m$^{-2}$ s$^{-1}$)", rotation=90,
         ha="center", va="center", color=TXT)

# axis break marks
for sx in (48, 752):
    fig.patches.append(Polygon([px(sx - 5, 793), px(sx + 5, 785), px(sx + 5, 792), px(sx - 5, 800)],
                               closed=True, transform=fig.transFigure, facecolor="white",
                               edgecolor="none", zorder=5))
    for dy in (0, 8):
        x0, y0 = px(sx - 5, 793 + dy)
        x1, y1 = px(sx + 5, 785 + dy)
        fig.lines.append(Line2D([x0, x1], [y0, y1], transform=fig.transFigure,
                                color="#222222", lw=0.8, zorder=6))

# ---------------- bottom labels ----------------
trans = mtrans.blended_transform_factory(ax_lo.transData, fig.transFigure)
ax_lo.text(pd.Timestamp("2008-06-12"), 1 - 919 / H, "2008", transform=trans,
           ha="center", va="center", color=TXT, fontsize=8.5)
ax_lo.text(pd.Timestamp("2009-06-14"), 1 - 919 / H, "2009", transform=trans,
           ha="center", va="center", color=TXT, fontsize=8.5)
ax_lo.text(pd.Timestamp("2009-01-01"), 1 - 919 / H, "month", transform=trans,
           ha="center", va="center", color="#111111", fontsize=8.5, fontweight="bold")

fig.savefig("out.png", dpi=100)
